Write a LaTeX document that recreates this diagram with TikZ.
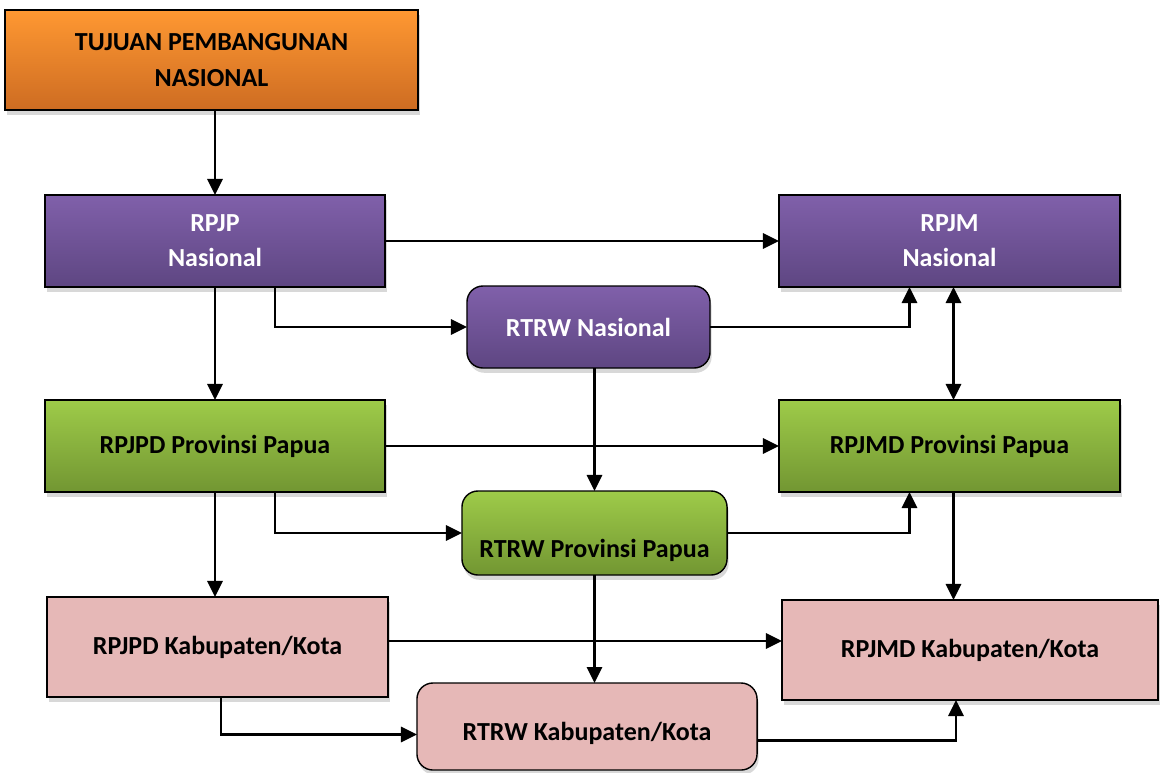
\documentclass[tikz,border=0pt]{standalone}
\usepackage{fontspec}
\setmainfont{Carlito}
\usetikzlibrary{arrows.meta}
\usetikzlibrary{shadows}

\definecolor{orangeTop}{RGB}{255,152,50}
\definecolor{orangeBot}{RGB}{205,108,34}
\definecolor{purpleTop}{RGB}{128,96,170}
\definecolor{purpleBot}{RGB}{94,70,130}
\definecolor{greenTop}{RGB}{158,203,73}
\definecolor{greenBot}{RGB}{114,150,50}
\definecolor{pinkFill}{RGB}{230,184,183}

\begin{document}
\begin{tikzpicture}[x = 0.025cm, y = -0.025cm, font=\bfseries\fontsize{18.5}{25}\selectfont]
	\tikzstyle{boxStyle} = [draw, line width = 1pt, inner sep = 0pt, outer sep = 0pt, align = center,
		drop shadow = {shadow xshift = 0.04cm, shadow yshift = -0.12cm, fill = black!30}]
	\tikzstyle{roundStyle} = [boxStyle, rounded corners = 0.4cm]
	\tikzstyle{orangeStyle} = [top color = orangeTop, bottom color = orangeBot, text = black]
	\tikzstyle{purpleStyle} = [top color = purpleTop, bottom color = purpleBot, text = white]
	\tikzstyle{greenStyle} = [top color = greenTop, bottom color = greenBot, text = black]
	\tikzstyle{pinkStyle} = [fill = pinkFill, text = black]
	\tikzstyle{arrowStyle} = [line width = 1.8pt, -{Triangle[length = 0.4cm, width = 0.38cm]}]
	\tikzstyle{bothStyle} = [line width = 1.8pt, {Triangle[length = 0.4cm, width = 0.38cm]}-{Triangle[length = 0.4cm, width = 0.38cm]}]
	\useasboundingbox (0, 0) rectangle (1161, 772);
	% boxes
	\node[boxStyle, orangeStyle, minimum width = 10.325cm, minimum height = 2.5cm] (tujuan) at (211.5, 60) {TUJUAN PEMBANGUNAN\\NASIONAL};
	\node[boxStyle, purpleStyle, minimum width = 8.5cm, minimum height = 2.3cm] (rpjpN) at (215, 241) {RPJP\\Nasional};
	\node[boxStyle, purpleStyle, minimum width = 8.525cm, minimum height = 2.3cm] (rpjmN) at (949.5, 241) {RPJM\\Nasional};
	\node[roundStyle, purpleStyle, minimum width = 6.075cm, minimum height = 2.05cm] (rtrwN) at (588.5, 327) {RTRW Nasional};
	\node[boxStyle, greenStyle, minimum width = 8.5cm, minimum height = 2.3cm] (rpjpdP) at (215, 446) {RPJPD Provinsi Papua};
	\node[boxStyle, greenStyle, minimum width = 8.525cm, minimum height = 2.3cm] (rpjmdP) at (949.5, 446) {RPJMD Provinsi Papua};
	\node[roundStyle, greenStyle, minimum width = 6.625cm, minimum height = 2.1cm, text height = 1.2cm, text depth = 0cm] (rtrwP) at (594.5, 533) {RTRW Provinsi Papua};
	\node[boxStyle, pinkStyle, minimum width = 8.525cm, minimum height = 2.5cm] (rpjpdK) at (217.5, 647) {RPJPD Kabupaten/Kota};
	\node[boxStyle, pinkStyle, minimum width = 9.4cm, minimum height = 2.5cm] (rpjmdK) at (970, 650) {RPJMD Kabupaten/Kota};
	\node[roundStyle, pinkStyle, minimum width = 8.5cm, minimum height = 2.175cm, text height = 0.72cm, text depth = 0cm] (rtrwK) at (587, 726.5) {RTRW Kabupaten/Kota};
	% arrows
	\draw[arrowStyle] (tujuan.south -| rpjpN.north) -- (rpjpN.north);
	\draw[arrowStyle] (rpjpN.east) -- (rpjmN.west);
	\draw[arrowStyle] (rpjpN.south) -- (rpjpdP.north);
	\draw[arrowStyle] ([xshift = 1.5cm]rpjpN.south) |- (rtrwN.west);
	\draw[arrowStyle] (rtrwN.east) -| ([xshift = -1cm]rpjmN.south);
	\draw[bothStyle] ([xshift = 0.1cm]rpjmN.south) -- ([xshift = 0.1cm]rpjmdP.north);
	\draw[arrowStyle] (rtrwP.north |- rtrwN.south) -- (rtrwP.north);
	\draw[arrowStyle] (rpjpdP.east) -- (rpjmdP.west);
	\draw[arrowStyle] (rpjpdP.south) -- (rpjpdP.south |- rpjpdK.north);
	\draw[arrowStyle] ([xshift = 1.5cm]rpjpdP.south) |- (rtrwP.west);
	\draw[arrowStyle] (rtrwP.east) -| ([xshift = -1cm]rpjmdP.south);
	\draw[arrowStyle] ([xshift = 0.1cm]rpjmdP.south) -- ([xshift = 0.1cm]rpjmdP.south |- rpjmdK.north);
	\draw[arrowStyle] (rtrwP.south) -- (rtrwP.south |- rtrwK.north);
	\draw[arrowStyle] ([yshift = 0.15cm]rpjpdK.east) -- ([yshift = 0.15cm]rpjpdK.east -| rpjmdK.west);
	\draw[arrowStyle] ([xshift = 0.09cm]rpjpdK.south) |- ([yshift = -0.2cm]rtrwK.west);
	\draw[arrowStyle] ([yshift = -0.35cm]rtrwK.east) -| ([xshift = -0.35cm]rpjmdK.south);
\end{tikzpicture}
\end{document}
